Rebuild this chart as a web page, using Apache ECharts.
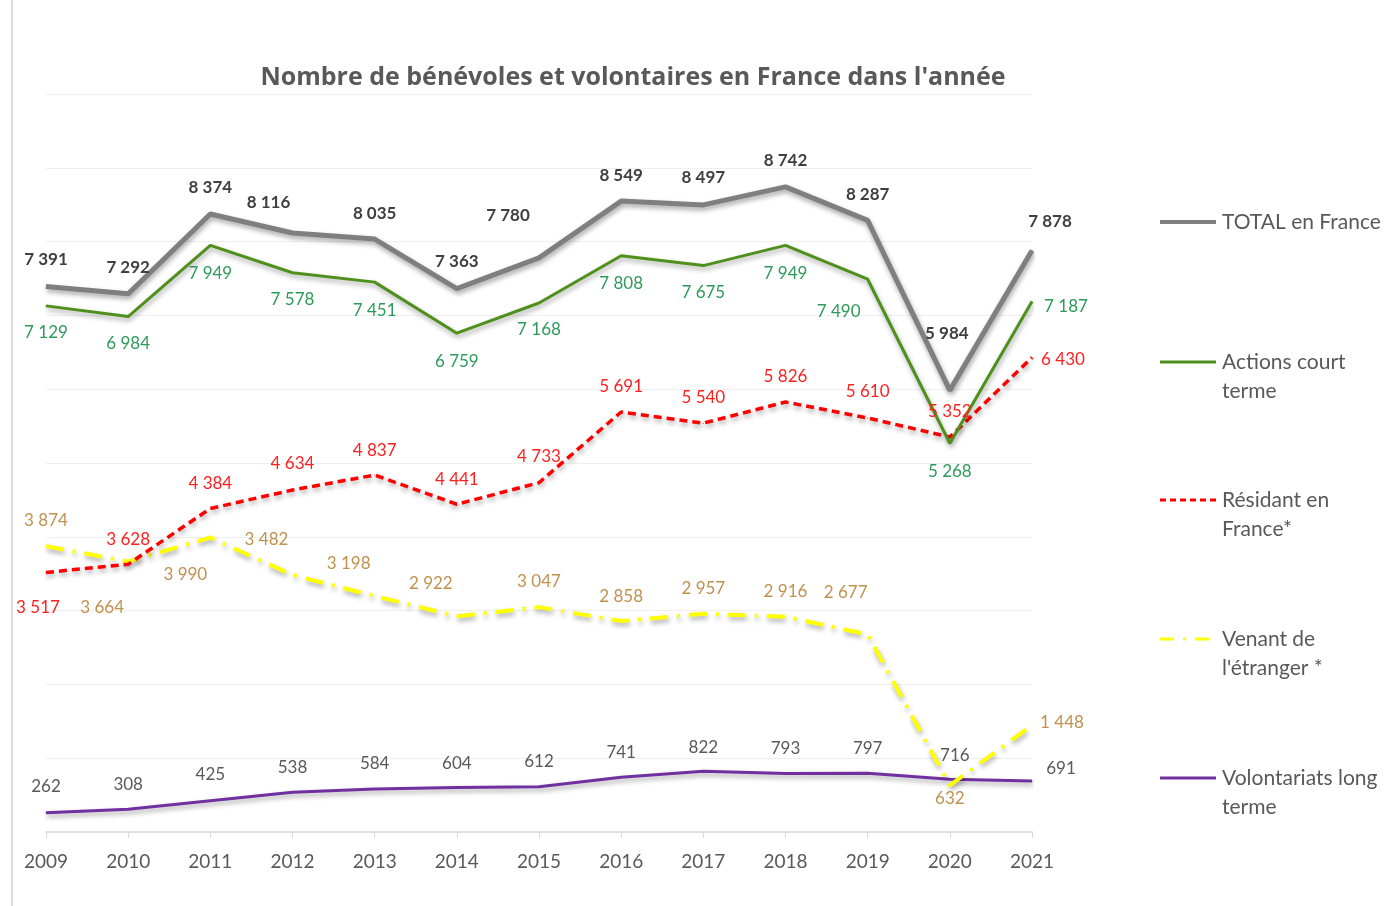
<!DOCTYPE html>
<html>
<head>
<meta charset="utf-8">
<title>Bénévoles et volontaires</title>
<script src="https://cdn.jsdelivr.net/npm/echarts@6/dist/echarts.min.js"></script>
<style>
  html, body { margin: 0; padding: 0; background: #fff; }
  #chart { width: 1391px; height: 906px; }
</style>
</head>
<body>
<div id="chart"></div>
<script>
// données
const years = ['2009', '2010', '2011', '2012', '2013', '2014', '2015', '2016', '2017', '2018', '2019', '2020', '2021'];
const total = [7391, 7292, 8374, 8116, 8035, 7363, 7780, 8549, 8497, 8742, 8287, 5984, 7878];
const courtTerme = [7129, 6984, 7949, 7578, 7451, 6759, 7168, 7808, 7675, 7949, 7490, 5268, 7187];
const residant = [3517, 3628, 4384, 4634, 4837, 4441, 4733, 5691, 5540, 5826, 5610, 5352, 6430];
const etranger = [3874, 3664, 3990, 3482, 3198, 2922, 3047, 2858, 2957, 2916, 2677, 632, 1448];
const longTerme = [262, 308, 425, 538, 584, 604, 612, 741, 822, 793, 797, 716, 691];

// décalage des étiquettes (centre du texte par rapport au point)
const offTotal = [[0,-27],[0,-26],[0,-26],[-24,-31],[0,-26],[0,-27],[-31,-42],[0,-26],[0,-27],[0,-26],[0,-26],[-3,-57],[18,-29]];
const offCourt = [[0,27],[0,27],[0,28],[0,27],[0,28],[0,28],[0,27],[0,28],[0,27],[0,28],[-29,32],[0,28],[34,5]];
const offResid = [[-8,35],[0,-25],[0,-25],[0,-26],[0,-25],[0,-25],[0,-26],[0,-25],[0,-26],[0,-26],[0,-26],[0,-26],[31,2]];
const offEtr = [[0,-26],[-26,46],[-25,37],[-26,-36],[-26,-32],[-26,-33],[0,-26],[0,-25],[0,-25],[0,-25],[-22,-42],[0,13],[30,-3]];
const offLong = [[0,-26],[0,-25],[0,-26],[0,-25],[0,-25],[0,-24],[0,-25],[0,-25],[0,-24],[0,-25],[0,-25],[5,-24],[29,-12]];

const fmt = v => String(v).replace(/\B(?=(\d{3})+(?!\d))/g, ' ');

const withLabels = (values, offsets) =>
  values.map((v, i) => ({ value: v, label: { offset: offsets[i] } }));

const shadow = {
  shadowColor: 'rgba(0,0,0,0.35)',
  shadowBlur: 5,
  shadowOffsetX: 1,
  shadowOffsetY: 3
};

const makeSeries = (name, values, offsets, color, width, dash, labelColor, bold) => ({
  name: name,
  type: 'line',
  data: withLabels(values, offsets),
  symbol: 'circle',
  symbolSize: 1,
  itemStyle: { color: color },
  lineStyle: Object.assign({ color: color, width: width, type: dash }, shadow),
  label: {
    show: true,
    position: 'inside',
    formatter: p => fmt(p.value),
    color: labelColor,
    fontFamily: 'Lato',
    fontSize: 17,
    fontWeight: bold ? 'bold' : 'normal'
  },
  emphasis: { disabled: true }
});

const chart = echarts.init(document.getElementById('chart'));

const legendItems = [
  { y: 222, color: '#7f7f7f', width: 4, dash: null, lines: ['TOTAL en France'] },
  { y: 362, color: '#4f8f1b', width: 3, dash: null, lines: ['Actions court', 'terme'] },
  { y: 500, color: '#ff0000', width: 3, dash: [6, 4], lines: ['Résidant en', 'France*'] },
  { y: 639, color: '#ffff00', width: 3, dash: [14, 9, 3, 9], lines: ["Venant de", "l'étranger *"] },
  { y: 778, color: '#7030a0', width: 3, dash: null, lines: ['Volontariats long', 'terme'] }
];

const graphics = [
  { type: 'line', shape: { x1: 12, y1: 0, x2: 12, y2: 906 }, style: { stroke: '#d0d0d0', lineWidth: 1.5 } }
];
legendItems.forEach(it => {
  graphics.push({
    type: 'line',
    shape: { x1: 1160, y1: it.y, x2: 1216, y2: it.y },
    style: { stroke: it.color, lineWidth: it.width, lineDash: it.dash }
  });
  it.lines.forEach((t, k) => {
    graphics.push({
      type: 'text',
      x: 1222,
      y: it.y + k * 29,
      style: {
        text: t,
        fill: '#595959',
        font: '21px Lato',
        verticalAlign: 'middle'
      }
    });
  });
});

const option = {
  animation: false,
  backgroundColor: '#ffffff',
  title: {
    text: "Nombre de bénévoles et volontaires en France dans l'année",
    left: 628,
    textAlign: 'center',
    top: 60,
    textStyle: { fontFamily: 'Open Sans', fontSize: 25, fontWeight: 'bold', color: '#595959' }
  },
  grid: { left: 46, right: 359, top: 94, bottom: 74 },
  xAxis: {
    type: 'category',
    data: years,
    boundaryGap: false,
    axisLine: { lineStyle: { color: '#d9d9d9', width: 1.5 } },
    axisTick: { show: true, alignWithLabel: true, length: 6, lineStyle: { color: '#d9d9d9' } },
    axisLabel: { color: '#595959', fontFamily: 'Lato', fontSize: 19, margin: 20 }
  },
  yAxis: {
    type: 'value',
    min: 0,
    max: 10000,
    interval: 1000,
    axisLabel: { show: false },
    axisLine: { show: false },
    axisTick: { show: false },
    splitLine: { lineStyle: { color: '#efefef', width: 1 } }
  },
  graphic: graphics,
  series: [
    makeSeries('Volontariats long terme', longTerme, offLong, '#7030a0', 3, 'solid', '#595959', false),
    makeSeries("Venant de l'étranger *", etranger, offEtr, '#ffff00', 4, [18, 9, 3, 9], '#c0914f', false),
    makeSeries('Résidant en France*', residant, offResid, '#ff0000', 3.5, [8, 5], '#ff2020', false),
    makeSeries('Actions court terme', courtTerme, offCourt, '#4f8f1b', 3, 'solid', '#2e9a5a', false),
    makeSeries('TOTAL en France', total, offTotal, '#7f7f7f', 5, 'solid', '#404040', true)
  ]
};

chart.setOption(option);
</script>
</body>
</html>
